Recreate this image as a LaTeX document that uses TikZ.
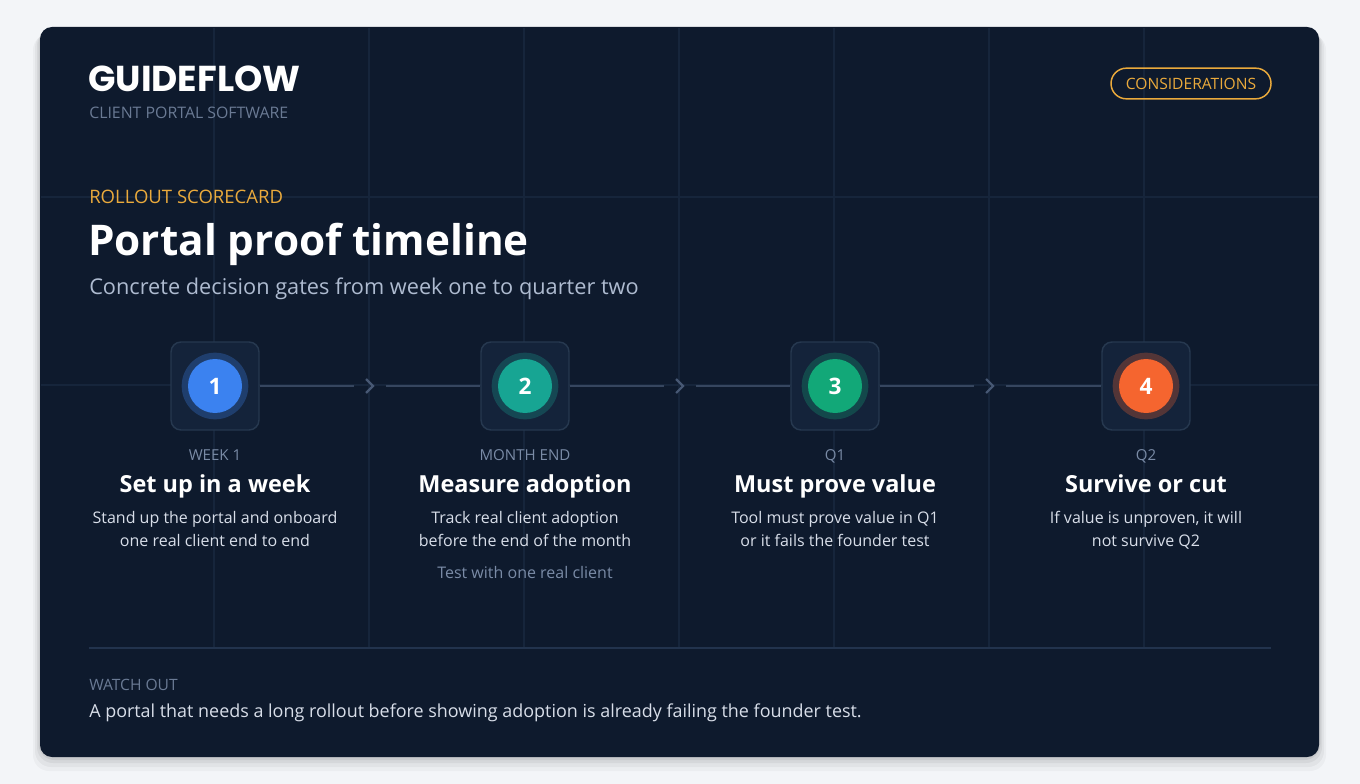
\documentclass[tikz,border=0pt]{standalone}
\usepackage{fontspec}
\setmainfont{Open Sans}
\newfontfamily\logofont{Poppins}
\usetikzlibrary{calc}
\definecolor{bgc}{HTML}{F3F5F8}
\definecolor{cardc}{HTML}{0E1A2D}
\definecolor{gridc}{HTML}{16253B}
\definecolor{boxfill}{HTML}{14233A}
\definecolor{boxline}{HTML}{26384F}
\definecolor{linec}{HTML}{36465F}
\definecolor{chevc}{HTML}{475874}
\definecolor{greyc}{HTML}{7A8BA6}
\definecolor{descc}{HTML}{D8DEE9}
\definecolor{subc}{HTML}{AEBBD0}
\definecolor{amber}{HTML}{EAAA3C}
\definecolor{sepc}{HTML}{22334D}
\definecolor{gblue}{HTML}{3B82F0}
\definecolor{gteal}{HTML}{17A593}
\definecolor{ggreen}{HTML}{12A878}
\definecolor{gorange}{HTML}{F5652F}
\tikzset{
  gatebox/.style={draw=boxline, fill=boxfill, line width=1.1pt, rounded corners=7.5pt, minimum size=66pt, inner sep=0pt},
  glowring/.style={circle, fill=#1!28!boxfill, minimum size=50pt, inner sep=0pt},
  gatedot/.style={circle, fill=#1, minimum size=40.5pt, inner sep=0pt, text=white, font=\bfseries\fontsize{17}{18}\selectfont},
  glabel/.style={anchor=base, inner sep=0pt, text=greyc, font=\fontsize{11.3}{12}\selectfont},
  gtitle/.style={anchor=base, inner sep=0pt, text=white, font=\bfseries\fontsize{17.6}{20}\selectfont},
  gdesc/.style={anchor=base, inner sep=0pt, text=descc, font=\fontsize{12}{14}\selectfont},
  gnote/.style={anchor=base, inner sep=0pt, text=greyc, font=\fontsize{12}{14}\selectfont},
  tline/.style={draw=linec, line width=2.2pt},
  chev/.style={inner sep=0pt, minimum width=24pt, minimum height=14pt},
  chevstroke/.style={draw=chevc, line width=1.6pt},
  lefttext/.style={anchor=base west, inner sep=0pt},
}
\newcommand\mkgate[7]{%
  \node[gatebox] (box#1) at (#2,386) {};
  \node[glowring=#3] (glow#1) at (box#1.center) {};
  \node[gatedot=#3] (dot#1) at (box#1.center) {#1};
  \node[glabel] (lab#1) at (#2,460) {#4};
  \node[gtitle] (tit#1) at (#2,492) {#5};
  \node[gdesc] (da#1) at (#2,523) {#6};
  \node[gdesc] (db#1) at (#2,546) {#7};
}
\newcommand\mkchev[1]{%
  \draw[chevstroke] ($(#1.center)+(-4,-7)$) -- ($(#1.center)+(3,0)$) -- ($(#1.center)+(-4,7)$);
}
\begin{document}
\begin{tikzpicture}[x=0.75pt,y=-0.75pt]
\useasboundingbox (0,0) rectangle (1360,784);
\fill[bgc] (0,0) rectangle (1360,784);
% card shadow
\foreach \o/\a in {14/0.03,10/0.04,6/0.05,3/0.06}{
  \fill[black, opacity=\a, rounded corners=12pt] (40-\o/2,27+\o/2) rectangle (1319+\o/2,757+\o);
}
\fill[cardc, rounded corners=9pt] (40,27) rectangle (1319,757);
% grid
\foreach \gx in {214,369,524,679,834,989,1144}{
  \draw[gridc, line width=0.8pt] (\gx,28) -- (\gx,647);
}
\foreach \gy in {197,385}{
  \draw[gridc, line width=0.8pt] (41,\gy) -- (1318,\gy);
}
% header
\node[lefttext, text=white, font=\logofont\bfseries\fontsize{27}{30}\selectfont] (logo) at (88,92) {GUIDEFLOW};
\node[lefttext, text=greyc!85!cardc, font=\fontsize{11.9}{13}\selectfont] (tagline) at (89,118.5) {CLIENT PORTAL SOFTWARE};
\node[draw=amber, line width=1.1pt, rounded corners=11.5pt, minimum width=120pt, minimum height=23pt, inner sep=0pt, text=amber, font=\fontsize{11.7}{13}\selectfont] (consid) at (1191,83.5) {CONSIDERATIONS};
\node[lefttext, text=amber, font=\fontsize{13.9}{15}\selectfont] (kicker) at (89,203.5) {ROLLOUT SCORECARD};
\node[lefttext, text=white, font=\bfseries\fontsize{31.7}{36}\selectfont] (title) at (88,256) {Portal proof timeline};
\node[lefttext, text=subc, font=\fontsize{16.3}{18}\selectfont] (subtitle) at (89,295) {Concrete decision gates from week one to quarter two};
% gates
\mkgate{1}{215}{gblue}{WEEK 1}{Set up in a week}{Stand up the portal and onboard}{one real client end to end}
\mkgate{2}{525}{gteal}{MONTH END}{Measure adoption}{Track real client adoption}{before the end of the month}
\mkgate{3}{835}{ggreen}{Q1}{Must prove value}{Tool must prove value in Q1}{or it fails the founder test}
\mkgate{4}{1146}{gorange}{Q2}{Survive or cut}{If value is unproven, it will}{not survive Q2}
\node[gnote] (note2) at (525,578) {Test with one real client};
% connectors
\node[chev] (ch1) at (370,386) {};
\node[chev] (ch2) at (680,386) {};
\node[chev] (ch3) at (990,386) {};
\draw[tline] (box1.east) -- (ch1.west);
\draw[tline] (ch1.east) -- (box2.west);
\draw[tline] (box2.east) -- (ch2.west);
\draw[tline] (ch2.east) -- (box3.west);
\draw[tline] (box3.east) -- (ch3.west);
\draw[tline] (ch3.east) -- (box4.west);
\mkchev{ch1}\mkchev{ch2}\mkchev{ch3}
% footer
\coordinate (sepL) at (89,648);
\coordinate (sepR) at (1271,648);
\draw[sepc, line width=1.5pt] (sepL) -- (sepR);
\node[lefttext, text=greyc!85!cardc, font=\fontsize{11.7}{13}\selectfont] (watch) at (89,690) {WATCH OUT};
\node[lefttext, text=descc, font=\fontsize{13.45}{16}\selectfont] (warn) at (89,717) {A portal that needs a long rollout before showing adoption is already failing the founder test.};
\end{tikzpicture}
\end{document}
